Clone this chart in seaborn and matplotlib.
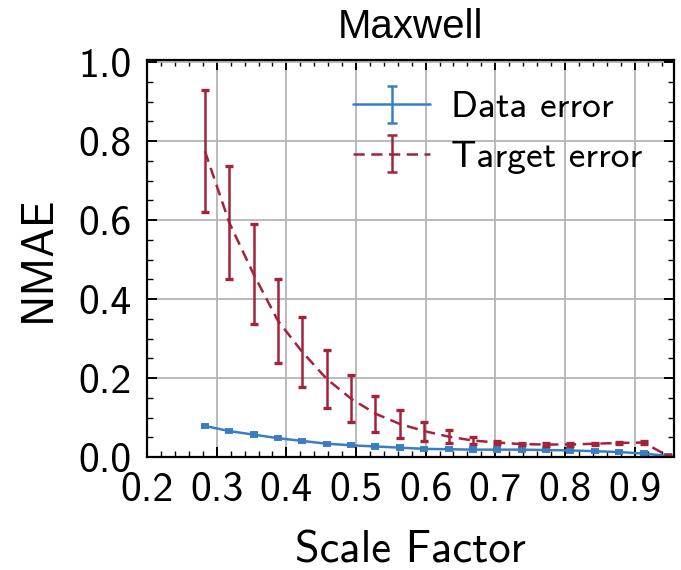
import numpy as np
import pandas as pd
import matplotlib
matplotlib.use("Agg")
import matplotlib.pyplot as plt
from matplotlib.ticker import MultipleLocator
import seaborn as sns

# ---- data ----
scale_factor = [0.283, 0.318, 0.353, 0.388, 0.423, 0.458, 0.493, 0.528, 0.563, 0.598,
                0.633, 0.668, 0.703, 0.738, 0.773, 0.808, 0.843, 0.878, 0.913, 0.948]
data_err = [0.079, 0.066, 0.057, 0.048, 0.041, 0.034, 0.030, 0.027, 0.024, 0.021,
            0.020, 0.019, 0.019, 0.019, 0.018, 0.017, 0.015, 0.013, 0.009, 0.003]
data_err_std = [0.003, 0.003, 0.003, 0.003, 0.003, 0.003, 0.003, 0.003, 0.003, 0.003,
                0.003, 0.003, 0.003, 0.003, 0.003, 0.003, 0.003, 0.003, 0.003, 0.002]
target_err = [0.775, 0.594, 0.463, 0.345, 0.266, 0.198, 0.148, 0.110, 0.084, 0.066,
              0.052, 0.042, 0.037, 0.033, 0.032, 0.032, 0.034, 0.036, 0.037, 0.003]
target_err_std = [0.154, 0.144, 0.127, 0.106, 0.089, 0.073, 0.059, 0.046, 0.036, 0.024,
                  0.016, 0.008, 0.004, 0.003, 0.003, 0.003, 0.003, 0.003, 0.003, 0.002]
x_ticks = [0.2, 0.3, 0.4, 0.5, 0.6, 0.7, 0.8, 0.9]
y_ticks = [0.0, 0.2, 0.4, 0.6, 0.8, 1.0]

df = pd.DataFrame({"scale": scale_factor, "data": data_err, "data_std": data_err_std,
                   "target": target_err, "target_std": target_err_std})

sns.set_theme(style="ticks")
plt.rcParams["font.family"] = ["cmss10", "DejaVu Sans"]
plt.rcParams["axes.unicode_minus"] = False
plt.rcParams["text.color"] = "black"
plt.rcParams["axes.labelcolor"] = "black"
plt.rcParams["xtick.color"] = "black"
plt.rcParams["ytick.color"] = "black"

BLUE = "#3A7EC2"
RED = "#A2243C"
LW = 1.8
DASH = (0, (4.5, 2.6))

fig = plt.figure(figsize=(6.81, 5.70), dpi=100)
ax = fig.add_axes([0.216, 0.198, 0.774, 0.697])

sns.lineplot(data=df, x="scale", y="data", ax=ax, color=BLUE, lw=LW, legend=False)
sns.lineplot(data=df, x="scale", y="target", ax=ax, color=RED, lw=LW, legend=False,
             linestyle=DASH)
ax.errorbar(df["scale"], df["data"], yerr=df["data_std"], fmt="none", ecolor=BLUE,
            elinewidth=LW, capsize=3.2, capthick=2.8)
ax.errorbar(df["scale"], df["target"], yerr=df["target_std"], fmt="none", ecolor=RED,
            elinewidth=LW, capsize=3.2, capthick=2.4)

# legend proxies
h1 = ax.errorbar([np.nan], [np.nan], yerr=[np.nan], fmt="-", color=BLUE, lw=LW,
                 elinewidth=LW, capsize=3.8, capthick=LW, label="Data error")
h2 = ax.errorbar([np.nan], [np.nan], yerr=[np.nan], fmt="-", color=RED, lw=LW,
                 linestyle=DASH, elinewidth=LW, capsize=3.8, capthick=LW,
                 label="Target error")
leg = ax.legend(handles=[h1, h2], loc="upper right", frameon=False, fontsize=27,
                handlelength=2.05, handletextpad=0.56, labelspacing=0.43,
                borderaxespad=0, bbox_to_anchor=(0.968, 0.959))

ax.set_xlim(0.2, 0.957)
ax.set_ylim(0.0, 1.006)
ax.set_xticks(x_ticks)
ax.set_yticks(y_ticks)
ax.xaxis.set_minor_locator(MultipleLocator(0.02))
ax.yaxis.set_minor_locator(MultipleLocator(0.05))
ax.set_xticklabels([f"{v:.1f}" for v in x_ticks])
ax.set_yticklabels([f"{v:.1f}" for v in y_ticks])
ax.tick_params(which="both", direction="in", top=True, right=True)
ax.tick_params(which="major", length=7, width=1.4, labelsize=30, pad=11)
ax.tick_params(which="minor", length=4, width=1.0)
ax.grid(True, which="major", color="#B4B4B4", lw=1.3)
for s in ax.spines.values():
    s.set_linewidth(1.6)
    s.set_color("black")

ax.set_xlabel("Scale Factor", fontsize=32, labelpad=15)
ax.set_ylabel("NMAE", fontsize=32, labelpad=14)
ax.set_title("Maxwell", fontsize=29, family="Liberation Sans", pad=16)

fig.savefig("out.png", dpi=100)
